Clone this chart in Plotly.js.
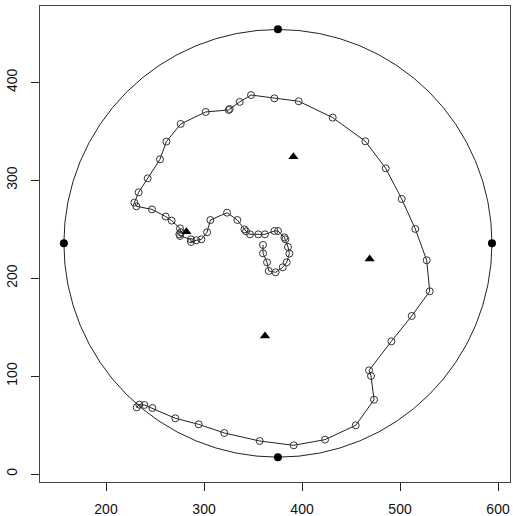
<!DOCTYPE html>
<html>
<head>
<meta charset="utf-8">
<script src="https://cdn.plot.ly/plotly-3.0.1.min.js"></script>
<style>html,body{margin:0;padding:0;background:#fff;}#chart{width:513px;height:516px;}</style>
</head>
<body>
<div id="chart"></div>
<script>
// Path of the tracked points (open circles joined by a line)
const pathX = [360.2,360.2,364.3,366.0,373.1,380.3,384.4,387.1,385.7,383.0,382.0,375.5,371.8,362.2,355.4,346.9,342.9,341.2,334.0,323.5,306.5,303.1,297.3,292.2,286.7,286.7,275.5,274.8,276.5,275.5,267.0,260.9,246.9,231.0,228.9,233.3,242.5,255.1,261.6,276.2,301.7,325.2,326.2,336.4,348.0,371.8,396.6,431.3,464.6,485.4,501.7,515.6,527.2,530.3,511.9,491.2,468.4,470.4,473.5,454.8,423.5,391.5,356.8,320.7,294.6,270.7,247.3,239.1,234.0,231.3];
const pathY = [233.9,225.4,216.2,207.4,206.0,211.1,216.2,225.1,231.9,239.7,241.7,248.2,248.2,244.8,244.8,244.8,247.9,249.9,259.4,266.9,259.4,246.9,239.7,238.7,237.0,239.7,243.1,244.8,246.9,250.9,258.8,262.9,270.3,273.4,277.2,287.7,302.0,321.4,339.5,357.5,369.8,371.8,372.8,380.0,387.1,383.7,380.7,364.0,339.8,312.2,280.9,250.3,218.3,186.6,161.4,135.5,105.9,100.1,75.9,49.7,35.1,29.3,33.7,41.9,50.7,56.9,67.4,70.5,70.8,68.1];

// Filled triangles
const triX = [391.2, 469.0, 362.2, 282.0];
const triY = [324.1, 219.6, 141.0, 247.5];

// Filled dots at the cardinal points of the arena circle
const dotX = [375.4, 157.0, 593.8, 375.4];
const dotY = [454.2, 235.6, 235.6, 17.0];

// Arena circle
const circleCX = 375.4;
const circleCY = 235.6;
const circleR = 218.4;

const data = [
  {x: pathX, y: pathY, type: 'scatter', mode: 'lines+markers',
   line: {color: '#222', width: 1},
   marker: {symbol: 'circle-open', size: 7, color: '#333', line: {width: 1, color: '#333'}},
   hoverinfo: 'x+y', showlegend: false},
  {x: triX, y: triY, type: 'scatter', mode: 'markers',
   marker: {symbol: 'triangle-up', size: 9, color: '#000'}, showlegend: false},
  {x: dotX, y: dotY, type: 'scatter', mode: 'markers',
   marker: {symbol: 'circle', size: 8, color: '#000'}, showlegend: false}
];

const axisCommon = {
  showgrid: false, zeroline: false, showline: true, mirror: true,
  linecolor: '#444', linewidth: 1, ticks: 'outside', ticklen: 8, tickwidth: 1,
  tickcolor: '#222', tickfont: {family: 'Liberation Sans, Arial, sans-serif', size: 14, color: '#111'},
  automargin: false
};

const layout = {
  width: 513, height: 516,
  margin: {l: 40, r: 3, t: 6, b: 34},
  paper_bgcolor: '#fff', plot_bgcolor: '#fff',
  showlegend: false,
  xaxis: Object.assign({}, axisCommon, {range: [132.65, 612.2], tickvals: [200, 300, 400, 500, 600], ticklabelstandoff: 6}),
  yaxis: Object.assign({}, axisCommon, {range: [-8.17, 478.0], tickvals: [0, 100, 200, 300, 400], tickangle: -90, ticklabelstandoff: 8}),
  shapes: [{type: 'circle', xref: 'x', yref: 'y',
    x0: circleCX - circleR, x1: circleCX + circleR, y0: circleCY - circleR, y1: circleCY + circleR,
    line: {color: '#222', width: 1}, layer: 'below'}]
};

Plotly.newPlot('chart', data, layout, {displayModeBar: false, staticPlot: true});
</script>
</body>
</html>
